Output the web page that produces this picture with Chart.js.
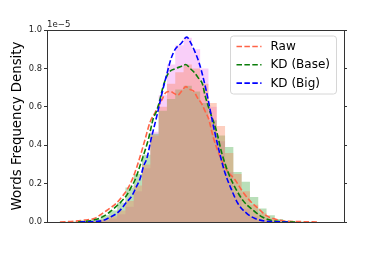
<!DOCTYPE html>
<html><head><meta charset="utf-8">
<script src="https://cdn.jsdelivr.net/npm/chart.js@4"></script>
<style>html,body{margin:0;padding:0;background:#fff;}#wrap{width:381px;height:254px;}</style>
</head><body><div id="wrap"><canvas id="c" width="381" height="254"></canvas></div>
<script>
// values in units of 1e-5
const offsetLabel = '1e\u22125';
const yTicks = [0.0, 0.2, 0.4, 0.6, 0.8, 1.0];
const seriesLabels = ['Raw', 'KD (Base)', 'KD (Big)'];
const binEdges = [0,1,2,3,4,5,6,7,8,9,10,11,12,13,14,15,16,17,18,19,20,21,22,23,24,25,26,27,28,29,30,31,32,33,34];

const rawHist  = [0.001,0.002,0.004,0.008,0.015,0.035,0.06,0.10,0.18,0.25,0.35,0.46,0.58,0.64,0.69,0.71,0.68,0.62,0.53,0.45,0.39,0.26,0.21,0.13,0.07,0.035,0.015,0.007,0.004,0.002,0.001,0.0005,0.0003,0.0002];
const baseHist = [0,0,0,0.002,0.005,0.012,0.03,0.06,0.11,0.19,0.30,0.45,0.60,0.72,0.78,0.82,0.80,0.72,0.62,0.50,0.36,0.25,0.16,0.09,0.045,0.02,0.008,0.003,0.001,0,0,0,0,0];
const bigHist  = [0,0,0,0,0.002,0.006,0.018,0.04,0.08,0.16,0.28,0.47,0.66,0.82,0.92,0.96,0.90,0.80,0.60,0.42,0.26,0.15,0.07,0.03,0.01,0.003,0.001,0,0,0,0,0,0,0];

const rawKdeX = [0.12,1.93,3.13,4.34,5.06,5.75,6.95,7.55,8.16,8.95,9.76,10.36,10.96,11.57,12.37,12.89,13.37,13.86,14.28,14.82,15.27,15.78,16.27,16.63,17.19,17.67,18.0,18.59,19.4,20.2,21.2,22.01,23.01,24.01,25.02,26.02,26.99,29.04,31.2];
const rawKdeY = [0,0.004,0.01,0.02,0.04,0.06,0.10,0.13,0.165,0.235,0.34,0.43,0.52,0.57,0.635,0.675,0.68,0.67,0.66,0.685,0.705,0.69,0.68,0.65,0.615,0.57,0.54,0.44,0.34,0.27,0.22,0.165,0.11,0.07,0.032,0.016,0.006,0.002,0];

const baseKdeX = [2.29,3.94,4.94,5.9,6.75,7.47,8.16,8.67,9.16,9.96,10.76,11.36,11.77,12.17,12.57,13.17,14.1,14.7,15.27,15.78,16.27,16.87,17.27,17.59,18.07,18.99,19.6,20.4,21.2,22.2,23.41,24.61,25.82,27.23,28.43];
const baseKdeY = [0,0.008,0.02,0.045,0.076,0.105,0.14,0.18,0.22,0.32,0.43,0.54,0.58,0.64,0.71,0.775,0.80,0.81,0.82,0.80,0.78,0.745,0.72,0.66,0.59,0.47,0.36,0.255,0.18,0.11,0.06,0.023,0.006,0.001,0];

const bigKdeX = [2.53,4.34,5.3,6.14,6.95,7.55,8.07,8.76,9.28,9.76,10.18,10.57,11.08,11.77,12.29,12.98,13.49,14.0,14.7,15.39,15.9,16.39,16.87,17.35,17.95,18.31,18.8,19.4,20.0,20.81,21.57,22.61,23.61,24.82,26.14,27.83];
const bigKdeY = [0,0.003,0.008,0.025,0.045,0.07,0.10,0.135,0.18,0.225,0.29,0.33,0.43,0.55,0.65,0.77,0.85,0.90,0.93,0.963,0.93,0.885,0.83,0.755,0.64,0.56,0.46,0.35,0.255,0.165,0.095,0.045,0.018,0.005,0.001,0];

const lineColors = {raw:'#ff6347', base:'#0a7d0a', big:'#0000ff'};

function histPoints(edges, h){
  const pts = [{x:edges[0], y:0}];
  for (let k=0;k<h.length;k++){ pts.push({x:edges[k], y:h[k]}); pts.push({x:edges[k+1], y:h[k]}); }
  pts.push({x:edges[h.length], y:0});
  return pts;
}
function xy(xs, ys){ return xs.map((x,i)=>({x:x, y:ys[i]})); }

const DASH = [5.5, 2.4];
function kde(label, xs, ys, color){
  return {label, data: xy(xs, ys), borderColor: color, borderWidth: 1.6, borderDash: DASH,
    pointRadius: 0, fill: false, cubicInterpolationMode: 'monotone', showInLegend: true};
}
function hist(label, h, color){
  return {label, data: histPoints(binEdges, h), borderWidth: 0, borderColor: 'rgba(0,0,0,0)',
    backgroundColor: color, fill: 'origin', pointRadius: 0, tension: 0};
}

// Chart.js draws the last dataset first (bottom)
const datasets = [
  kde(seriesLabels[2], bigKdeX, bigKdeY, lineColors.big),
  kde(seriesLabels[1], baseKdeX, baseKdeY, lineColors.base),
  kde(seriesLabels[0], rawKdeX, rawKdeY, lineColors.raw),
  hist(seriesLabels[1]+' hist', baseHist, 'rgba(250,128,90,0.38)'),
  hist(seriesLabels[0]+' hist', rawHist, 'rgba(60,165,60,0.36)'),
  hist(seriesLabels[2]+' hist', bigHist, 'rgba(238,130,238,0.38)')
];

const FONT = '"DejaVu Sans", sans-serif';
const deco = {
  id: 'deco',
  afterDraw(chart){
    const ctx = chart.ctx, a = chart.chartArea;
    ctx.save();
    ctx.strokeStyle = '#333'; ctx.lineWidth = 1;
    ctx.beginPath(); ctx.moveTo(a.left, Math.round(a.top)+0.5); ctx.lineTo(a.right, Math.round(a.top)+0.5); ctx.stroke();
    ctx.fillStyle = '#222'; ctx.font = '8.6px ' + FONT; ctx.textBaseline = 'alphabetic'; ctx.textAlign = 'left';
    ctx.fillText(offsetLabel, a.left, a.top - 3);
    // legend
    const w = 106, h = 58;
    const x0 = a.right - 7.5 - w, y0 = a.top + 6;
    const r = 3;
    ctx.beginPath();
    ctx.moveTo(x0+r, y0); ctx.lineTo(x0+w-r, y0); ctx.quadraticCurveTo(x0+w, y0, x0+w, y0+r);
    ctx.lineTo(x0+w, y0+h-r); ctx.quadraticCurveTo(x0+w, y0+h, x0+w-r, y0+h);
    ctx.lineTo(x0+r, y0+h); ctx.quadraticCurveTo(x0, y0+h, x0, y0+h-r);
    ctx.lineTo(x0, y0+r); ctx.quadraticCurveTo(x0, y0, x0+r, y0); ctx.closePath();
    ctx.fillStyle = 'rgba(255,255,255,0.8)'; ctx.fill();
    ctx.strokeStyle = '#d6d6d6'; ctx.lineWidth = 1; ctx.stroke();
    const order = seriesLabels.map(l => chart.data.datasets.find(d => d.showInLegend && d.label === l));
    ctx.font = '12px ' + FONT; ctx.textBaseline = 'middle';
    order.forEach((d, i) => {
      const yy = y0 + 10.5 + i * 18.3;
      ctx.strokeStyle = d.borderColor; ctx.lineWidth = 1.6; ctx.setLineDash(DASH);
      ctx.beginPath(); ctx.moveTo(x0 + 6, yy); ctx.lineTo(x0 + 31, yy); ctx.stroke();
      ctx.setLineDash([]);
      ctx.fillStyle = '#000'; ctx.fillText(d.label, x0 + 40, yy + 0.5);
    });
    ctx.restore();
  }
};

new Chart(document.getElementById('c'), {
  type: 'line',
  data: { datasets },
  plugins: [deco],
  options: {
    responsive: false, animation: false, events: [],
    layout: { padding: { top: 30, left: 0, right: 0, bottom: 0 } },
    plugins: { legend: { display: false }, tooltip: { enabled: false } },
    scales: {
      x: { type: 'linear', min: -1.45, max: 34.33,
        ticks: { display: false }, grid: { display: false },
        border: { display: true, color: '#333', width: 1 },
        afterFit(s){ s.height = 32; } },
      y: { position: 'left', min: 0, max: 1,
        afterBuildTicks(s){ s.ticks = yTicks.map(v => ({value: v})); },
        ticks: { callback: v => v.toFixed(1), font: { family: FONT, size: 8.3 }, color: '#222', padding: 2 },
        grid: { drawOnChartArea: false, drawTicks: true, tickLength: 3, color: '#333' },
        border: { color: '#333', width: 1 },
        title: { display: true, text: 'Words Frequency Density', font: { family: FONT, size: 13.3 }, color: '#000', padding: { top: 10, bottom: 0 } },
        afterFit(s){ s.width = 47; } },
      y2: { position: 'right', min: 0, max: 1,
        afterBuildTicks(s){ s.ticks = yTicks.map(v => ({value: v})); },
        ticks: { display: false },
        grid: { drawOnChartArea: false, drawTicks: true, tickLength: 3, color: '#333' },
        border: { color: '#333', width: 1 },
        afterFit(s){ s.width = 37; } }
    }
  }
});
</script></body></html>
